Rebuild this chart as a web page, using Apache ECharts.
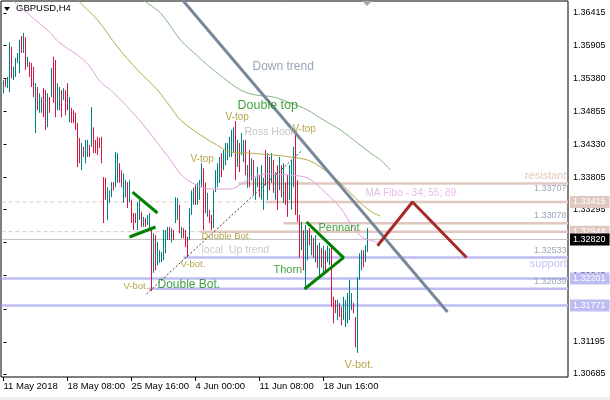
<!DOCTYPE html>
<html><head><meta charset="utf-8">
<script src="https://cdn.jsdelivr.net/npm/echarts@6/dist/echarts.min.js"></script>
<style>html,body{margin:0;padding:0;background:#fff}#c{width:610px;height:400px}</style>
</head><body><div id="c"></div>
<script>
// ---- data ----
const highs = [1.3535,1.3537,1.3540,1.3595,1.3588,1.3556,1.3570,1.3578,1.3599,1.3605,
 1.3610,1.3603,1.3572,1.3564,1.3562,1.3556,1.3530,1.3524,1.3514,1.3508,
 1.3522,1.3519,1.3514,1.3508,1.3554,1.3572,1.3567,1.3530,1.3524,1.3519,
 1.3522,1.3519,1.3530,1.3508,1.3491,1.3487,1.3483,1.3467,1.3443,1.3435,
 1.3429,1.3440,1.3440,1.3432,1.3492,1.3460,1.3440,1.3445,1.3443,1.3445,
 1.3381,1.3380,1.3365,1.3360,1.3373,1.3373,1.3421,1.3419,1.3403,1.3392,
 1.3387,1.3376,1.3373,1.3376,1.3345,1.3324,1.3324,1.3341,1.3345,1.3326,
 1.3318,1.3316,1.3321,1.3324,1.3302,1.3292,1.3289,1.3278,1.3265,1.3262,
 1.3297,1.3297,1.3302,1.3302,1.3300,1.3297,1.3349,1.3348,1.3337,1.3302,
 1.3300,1.3297,1.3286,1.3332,1.3360,1.3364,1.3368,1.3372,1.3376,1.3403,
 1.3395,1.3372,1.3356,1.3329,1.3321,1.3360,1.3392,1.3403,1.3413,1.3419,
 1.3424,1.3435,1.3435,1.3445,1.3456,1.3460,1.3470,1.3440,1.3435,1.3451,
 1.3440,1.3440,1.3400,1.3424,1.3411,1.3408,1.3380,1.3397,1.3384,1.3400,
 1.3380,1.3424,1.3419,1.3413,1.3419,1.3408,1.3389,1.3400,1.3413,1.3400,
 1.3403,1.3372,1.3384,1.3400,1.3408,1.3429,1.3451,1.3376,1.3321,1.3310,
 1.3297,1.3305,1.3297,1.3300,1.3289,1.3284,1.3289,1.3273,1.3277,1.3268,
 1.3272,1.3265,1.3272,1.3268,1.3270,1.3191,1.3186,1.3186,1.3181,1.3175,
 1.3191,1.3186,1.3197,1.3218,1.3197,1.3181,1.3159,1.3222,1.3260,1.3265,
 1.3265,1.3273,1.3300];
const lows = [1.3514,1.3524,1.3522,1.3516,1.3538,1.3535,1.3540,1.3562,1.3546,1.3578,
 1.3578,1.3551,1.3556,1.3540,1.3524,1.3508,1.3451,1.3487,1.3483,1.3483,
 1.3476,1.3456,1.3460,1.3483,1.3508,1.3499,1.3476,1.3487,1.3487,1.3476,
 1.3503,1.3479,1.3487,1.3468,1.3467,1.3467,1.3456,1.3397,1.3403,1.3392,
 1.3413,1.3403,1.3413,1.3413,1.3429,1.3419,1.3419,1.3416,1.3427,1.3403,
 1.3308,1.3345,1.3313,1.3340,1.3349,1.3360,1.3365,1.3372,1.3372,1.3365,
 1.3340,1.3349,1.3332,1.3341,1.3308,1.3297,1.3308,1.3297,1.3313,1.3302,
 1.3302,1.3302,1.3305,1.3297,1.3200,1.3229,1.3233,1.3241,1.3245,1.3246,
 1.3249,1.3260,1.3281,1.3281,1.3277,1.3281,1.3308,1.3313,1.3292,1.3284,
 1.3284,1.3270,1.3254,1.3281,1.3321,1.3337,1.3337,1.3337,1.3345,1.3365,
 1.3297,1.3324,1.3318,1.3308,1.3297,1.3300,1.3357,1.3365,1.3372,1.3381,
 1.3392,1.3400,1.3408,1.3413,1.3413,1.3419,1.3376,1.3397,1.3389,1.3416,
 1.3405,1.3384,1.3364,1.3365,1.3376,1.3353,1.3345,1.3365,1.3349,1.3345,
 1.3329,1.3368,1.3345,1.3360,1.3372,1.3356,1.3345,1.3329,1.3360,1.3349,
 1.3340,1.3337,1.3318,1.3345,1.3329,1.3365,1.3321,1.3310,1.3253,1.3265,
 1.3233,1.3205,1.3249,1.3273,1.3257,1.3253,1.3246,1.3237,1.3222,1.3237,
 1.3230,1.3230,1.3246,1.3241,1.3175,1.3149,1.3165,1.3154,1.3159,1.3146,
 1.3154,1.3143,1.3149,1.3154,1.3170,1.3165,1.3111,1.3102,1.3218,1.3233,
 1.3238,1.3246,1.3262];
const ups = [1,0,1,1,0,1,1,1,1,0, 1,0,1,0,0,0,1,0,1,1, 0,0,1,0,1,0,0,1,1,0,
 1,0,0,1,0,0,0,0,0,1, 0,1,1,0,1,0,0,0,0,0, 0,0,1,1,1,0,1,1,0,0,
 1,1,0,1,0,0,0,1,1,0, 1,0,1,1,0,1,0,1,1,1, 1,1,1,0,1,0,1,1,0,1,
 0,0,0,1,1,1,0,1,1,1, 0,0,1,0,0,1,1,1,1,0, 1,1,1,1,1,1,0,1,0,1,
 1,0,1,0,1,0,1,1,0,1, 1,0,1,0,1,0,1,0,1,0, 1,0,0,1,1,1,0,0,0,1,
 0,1,1,0,1,0,1,0,1,0, 1,0,1,1,0,0,0,1,0,0, 1,1,1,1,1,0,0,1,1,1, 0,1,1];

const xTickBars = [0, 32, 64, 96, 128, 160];
const xTickLabels = ['11 May 2018', '18 May 08:00', '25 May 16:00', '4 Jun 00:00', '11 Jun 08:00', '18 Jun 16:00'];
const yTicks = [1.36415, 1.35905, 1.35380, 1.34855, 1.34330, 1.33805, 1.33295, 1.32770, 1.32245, 1.31720, 1.31195, 1.30685];

// moving averages (bar index, price)
const ma34 = [[-0.5,1.36859],[4.5,1.36621],[16,1.36304],[23.5,1.36097],[27.5,1.35954],[37,1.35748],[42.5,1.35589],[48.5,1.35319],[53.5,1.35192],[62,1.34923],[67,1.34748],[72,1.34558],[77,1.34351],[83.5,1.34081],[88.5,1.33859],[93.5,1.33732],[103.5,1.33621],[113.5,1.33621],[122,1.33764],[131,1.33859],[143.5,1.33843],[152,1.33796],[158.5,1.33637],[168.5,1.33320],[175,1.33002],[180,1.32843],[187,1.32780]];
const ma55 = [[28.5,1.36938],[37,1.36621],[47,1.36304],[57,1.35875],[67,1.35510],[77,1.35192],[83.5,1.34923],[88.5,1.34716],[98.5,1.34478],[105,1.34351],[113.5,1.34208],[122,1.34192],[135,1.34161],[143.5,1.34129],[152,1.34081],[158.5,1.33970],[168.5,1.33716],[178.5,1.33399],[185,1.33240],[188.5,1.33192]];
const ma89 = [[61,1.36938],[70,1.36621],[78.5,1.36415],[88.5,1.35986],[97,1.35732],[102,1.35589],[110,1.35383],[118.5,1.35192],[126,1.35113],[135,1.35081],[143.5,1.34986],[152,1.34875],[160,1.34716],[168.5,1.34558],[177,1.34351],[183.5,1.34192],[188.5,1.34081],[193.5,1.33923]];

// ---- chart ----
const XMIN = -1.25, XMAX = 282.25;
const FONT = 'Liberation Sans';
const UP = '#008080', DN = '#DC143C';
const PINK = '#E0C8C0', LAV = '#BDBDF3';

// each price bar is a vertical high-low segment; '-' breaks the line between bars
function barSegments(wantUp) {
  const out = [];
  highs.forEach((h, i) => {
    if (!!ups[i] === wantUp) { out.push([i, h], [i, lows[i]], [i, '-']); }
  });
  return out;
}

function hline(price, from, color, width, type, box, boxColor) {
  return {
    type: 'line', silent: true, symbol: 'none', animation: false, z: 1,
    data: [[from, price], [XMAX, price]],
    lineStyle: { color: color, width: width, type: type },
    endLabel: box ? {
      show: true, formatter: box, backgroundColor: boxColor, color: '#fff',
      fontSize: 9, fontFamily: FONT, padding: [2, 4, 1, 3], distance: 2
    } : { show: false }
  };
}
function seg(points, color, width, type, z) {
  return { type: 'line', silent: true, symbol: 'none', animation: false, z: z || 4,
    data: points, lineStyle: { color: color, width: width, type: type || 'solid' } };
}

const OL = '#A39019', GR = '#138A13';
const notes = [
  ['Down trend', 124.5, 1.35558, '#7F8CA8', 12, 'r'],
  ['Double top', 117, 1.34938, GR, 12.5, 'r'],
  ['V-top', 111, 1.34764, OL, 10, 'r'],
  ['Ross Hook', 120.5, 1.34526, '#B4B4B4', 10.5, 'r'],
  ['V-top', 144.5, 1.34573, OL, 10, 'r'],
  ['V-top', 93.5, 1.34097, OL, 10, 'r'],
  ['Double Bot.', 99, 1.32875, OL, 9.5, 'r'],
  ['local  Up trend', 99, 1.32653, '#BDBDBD', 10.5, 'r'],
  ['V-bot.', 88.5, 1.32431, OL, 9.5, 'r'],
  ['V-bot.', 60, 1.32081, OL, 9.5, 'r'],
  ['Double Bot.', 77, 1.32097, GR, 12, 'r'],
  ['Pennant', 157.5, 1.33002, GR, 11, 'r'],
  ['Thorn', 135, 1.32335, GR, 11, 'r'],
  ['V-bot.', 170.5, 1.30827, OL, 11, 'r'],
  ['MA Fibo - 34; 55; 89', 181, 1.33558, '#E3A9E3', 10, 'r'],
  ['resistant', 281.5, 1.33827, '#E0B8B0', 11, 'l'],
  ['1.33707', 281.5, 1.33621, '#8090A8', 9, 'l'],
  ['1.33078', 281.5, 1.33193, '#8090A8', 9, 'l'],
  ['1.32533', 281.5, 1.32637, '#8090A8', 9, 'l'],
  ['support', 281.5, 1.32431, '#B3B3F2', 11, 'l'],
  ['1.32039', 281.5, 1.32145, '#8090A8', 9, 'l']
];

const chart = echarts.init(document.getElementById('c'), null, { renderer: 'canvas' });
chart.setOption({
  animation: false,
  backgroundColor: '#fff',
  grid: { left: 1, top: 1, right: 42, bottom: 23, show: true, borderColor: '#000', borderWidth: 1, backgroundColor: 'transparent' },
  xAxis: {
    type: 'value', min: XMIN, max: XMAX,
    splitLine: { show: false },
    axisLine: { show: false },
    axisTick: { show: true, length: 4, lineStyle: { color: '#000' }, customValues: xTickBars },
    axisLabel: {
      show: true, customValues: xTickBars, align: 'left', margin: 4,
      fontFamily: FONT, fontSize: 9.5, color: '#000',
      formatter: v => xTickLabels[xTickBars.indexOf(Math.round(v))] || ''
    }
  },
  yAxis: {
    type: 'value', position: 'right', min: 1.30637, max: 1.36605,
    splitLine: { show: false },
    axisLine: { show: false },
    axisTick: { show: true, length: 3, lineStyle: { color: '#000' }, customValues: yTicks },
    axisLabel: {
      show: true, customValues: yTicks, margin: 5,
      fontFamily: FONT, fontSize: 9, color: '#000',
      formatter: v => v.toFixed(5)
    }
  },
  graphic: [
    { type: 'polygon', shape: { points: [[4, 7], [10, 7], [7, 11]] }, style: { fill: '#000' } },
    { type: 'text', left: 16, top: 3, style: { text: 'GBPUSD,H4', fill: '#000', font: '9.5px "Liberation Sans"' } },
    { type: 'polygon', shape: { points: [[362, 1], [372, 1], [367, 6]] }, style: { fill: '#A8A8A8' } },
    { type: 'rect', shape: { x: 0, y: 397, width: 610, height: 3 }, style: { fill: '#EFEFEF' } }
  ],
  series: [
    // horizontal levels
    hline(1.33415, -1, PINK, 1, [4, 3], null),
    hline(1.33415, 131, PINK, 2.5, 'solid', '1.33415', '#E0C8C0'),
    hline(1.32944, -1, PINK, 1, [4, 3], null),
    hline(1.32944, 98.5, PINK, 2.5, 'solid', '1.32944', '#E0C8C0'),
    hline(1.33707, 117.5, PINK, 2.5, 'solid', null),
    hline(1.33078, 140, PINK, 2.5, 'solid', null),
    hline(1.32820, -1, '#C0C0C0', 1, 'solid', '1.32820', '#000'),
    hline(1.32533, 90, LAV, 2.5, 'solid', null),
    hline(1.32201, -1, LAV, 2.5, 'solid', '1.32201', LAV),
    hline(1.32039, 72.5, LAV, 2.5, 'solid', null),
    hline(1.31771, -1, LAV, 2.5, 'solid', '1.31771', LAV),
    // price bars
    { type: 'line', data: barSegments(true), symbol: 'none', connectNulls: false, silent: true, z: 3,
      lineStyle: { color: UP, width: 1 } },
    { type: 'line', data: barSegments(false), symbol: 'none', connectNulls: false, silent: true, z: 3,
      lineStyle: { color: DN, width: 1 } },
    // moving averages
    { type: 'line', data: ma34, symbol: 'none', smooth: 0.3, silent: true, z: 4, lineStyle: { color: '#DDA0DD', width: 1 } },
    { type: 'line', data: ma55, symbol: 'none', smooth: 0.3, silent: true, z: 4, lineStyle: { color: '#B5A848', width: 1 } },
    { type: 'line', data: ma89, symbol: 'none', smooth: 0.3, silent: true, z: 4, lineStyle: { color: '#80B480', width: 1 } },
    // drawn objects
    seg([[89.5, 1.36621], [222, 1.31669]], '#778899', 3),
    seg([[187, 1.32720], [204.5, 1.33415], [231.5, 1.32533]], '#A52A2A', 3),
    seg([[151.5, 1.33097], [170, 1.32533], [150.5, 1.32034]], '#008000', 3),
    seg([[64.5, 1.33573], [77, 1.33240]], '#008000', 3),
    seg([[63, 1.32859], [76, 1.33018]], '#008000', 3),
    seg([[71.5, 1.31954], [149.5, 1.34240]], '#404040', 1, [2, 2]),
    // texts
    {
      type: 'scatter', symbolSize: 0, silent: true, z: 6,
      data: notes.map(n => ({
        value: [n[1], n[2]],
        label: { show: true, formatter: n[0], position: n[5] === 'r' ? 'right' : 'left', distance: 0,
          color: n[3], fontSize: n[4], fontFamily: FONT }
      }))
    }
  ]
});
</script>
</body></html>
